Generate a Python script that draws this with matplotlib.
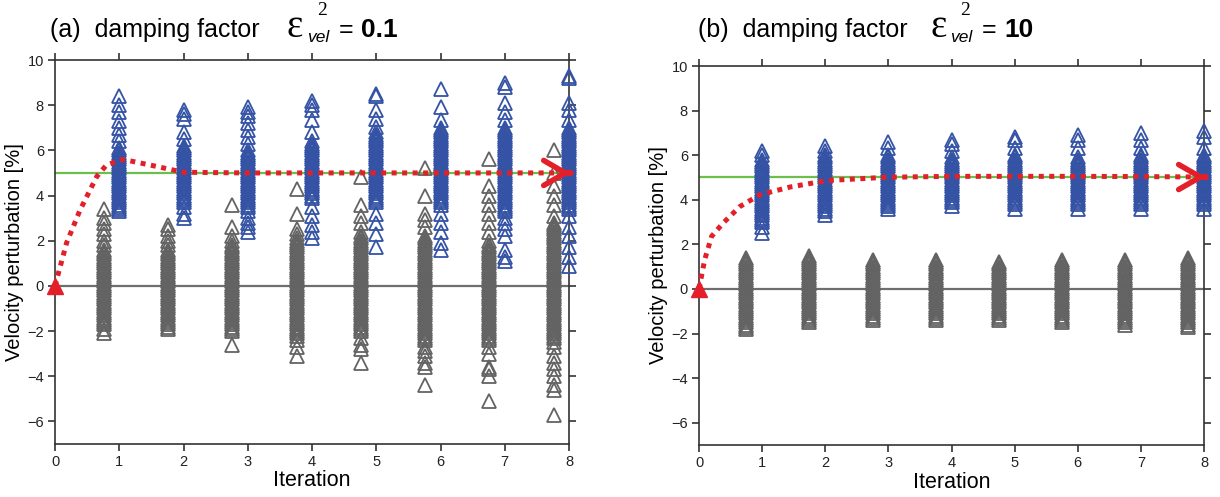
import matplotlib
matplotlib.use("Agg")
import numpy as np
from matplotlib import pyplot as plt

plt.rcParams['font.family'] = ['Liberation Sans', 'DejaVu Sans']

ITERATIONS = [1, 2, 3, 4, 5, 6, 7, 8]
TRUE_PERTURBATION = 5.0

# (a) damping 0.1 : background cells (grey) and anomaly cells (blue), per iteration
GREY_A = [
    [3.4, 3.0, 2.8, 2.5, 2.3, 2.0, 1.8, 1.6, 1.5, 1.4, 1.3, 1.2, 1.1, 1.0, 0.9, 0.8, 0.7, 0.6, 0.5, 0.4, 0.3,
     0.2, 0.1, 0.0, -0.1, -0.2, -0.3, -0.4, -0.5, -0.6, -0.7, -0.8, -0.9, -1.0, -1.1, -1.2, -1.3, -1.4, -1.5,
     -1.6, -1.7, -1.9, -2.1],
    [2.7, 2.5, 2.2, 2.0, 1.8, 1.6, 1.5, 1.4, 1.3, 1.2, 1.1, 1.0, 0.9, 0.8, 0.7, 0.6, 0.5, 0.4, 0.3, 0.2, 0.1,
     0.0, -0.1, -0.2, -0.3, -0.4, -0.5, -0.6, -0.7, -0.8, -0.9, -1.0, -1.1, -1.2, -1.3, -1.4, -1.5, -1.6, -1.7,
     -1.8, -1.9],
    [3.6, 2.6, 2.2, 2.0, 1.8, 1.7, 1.6, 1.5, 1.4, 1.3, 1.2, 1.1, 1.0, 0.9, 0.8, 0.7, 0.6, 0.5, 0.4, 0.3, 0.2,
     0.1, 0.0, -0.1, -0.2, -0.3, -0.4, -0.5, -0.6, -0.7, -0.8, -0.9, -1.0, -1.1, -1.2, -1.3, -1.4, -1.5, -1.6,
     -1.7, -1.8, -1.9, -2.0, -2.6],
    [4.3, 3.2, 2.5, 2.3, 2.1, 2.0, 1.9, 1.8, 1.7, 1.6, 1.5, 1.4, 1.3, 1.2, 1.1, 1.0, 0.9, 0.8, 0.7, 0.6, 0.5,
     0.4, 0.3, 0.2, 0.1, 0.0, -0.1, -0.2, -0.3, -0.4, -0.5, -0.6, -0.7, -0.8, -0.9, -1.0, -1.1, -1.2, -1.3,
     -1.4, -1.5, -1.6, -1.7, -1.8, -1.9, -2.0, -2.1, -2.2, -2.4, -2.7, -3.1],
    [4.8, 3.6, 3.1, 2.8, 2.4, 2.2, 2.1, 2.0, 1.9, 1.8, 1.7, 1.6, 1.5, 1.4, 1.3, 1.2, 1.1, 1.0, 0.9, 0.8, 0.7,
     0.6, 0.5, 0.4, 0.3, 0.2, 0.1, 0.0, -0.1, -0.2, -0.3, -0.4, -0.5, -0.6, -0.7, -0.8, -0.9, -1.0, -1.1, -1.2,
     -1.3, -1.4, -1.5, -1.6, -1.7, -1.8, -1.9, -2.0, -2.3, -2.6, -2.8, -3.4],
    [5.2, 4.0, 3.2, 2.9, 2.6, 2.2, 2.1, 2.0, 1.9, 1.8, 1.7, 1.6, 1.5, 1.4, 1.3, 1.2, 1.1, 1.0, 0.9, 0.8, 0.7,
     0.6, 0.5, 0.4, 0.3, 0.2, 0.1, 0.0, -0.1, -0.2, -0.3, -0.4, -0.5, -0.6, -0.7, -0.8, -0.9, -1.0, -1.1, -1.2,
     -1.3, -1.4, -1.5, -1.6, -1.7, -1.8, -1.9, -2.0, -2.1, -2.2, -2.3, -2.4, -2.7, -2.9, -3.1, -3.4, -3.6, -4.4],
    [5.6, 4.4, 4.0, 3.6, 3.2, 2.8, 2.4, 2.0, 1.8, 1.7, 1.6, 1.5, 1.4, 1.3, 1.2, 1.1, 1.0, 0.9, 0.8, 0.7, 0.6,
     0.5, 0.4, 0.3, 0.2, 0.1, 0.0, -0.1, -0.2, -0.3, -0.4, -0.5, -0.6, -0.7, -0.8, -0.9, -1.0, -1.1, -1.2, -1.3,
     -1.4, -1.5, -1.6, -1.7, -1.8, -1.9, -2.0, -2.1, -2.2, -2.3, -2.4, -2.7, -3.0, -3.6, -3.7, -4.0, -5.1],
    [6.0, 5.0, 4.4, 4.0, 3.6, 3.1, 2.8, 2.7, 2.6, 2.5, 2.4, 2.3, 2.2, 2.1, 2.0, 1.9, 1.8, 1.7, 1.6, 1.5, 1.4,
     1.3, 1.2, 1.1, 1.0, 0.9, 0.8, 0.7, 0.6, 0.5, 0.4, 0.3, 0.2, 0.1, 0.0, -0.1, -0.2, -0.3, -0.4, -0.5, -0.6,
     -0.7, -0.8, -0.9, -1.0, -1.1, -1.2, -1.3, -1.4, -1.5, -1.6, -1.7, -1.8, -1.9, -2.0, -2.1, -2.2, -2.3, -2.5,
     -2.7, -3.1, -3.4, -3.7, -4.0, -4.4, -4.6, -5.7],
]
BLUE_A = [
    [8.4, 8.0, 7.7, 7.3, 7.0, 6.7, 6.4, 6.1, 6.0, 5.9, 5.8, 5.7, 5.6, 5.5, 5.4, 5.3, 5.2, 5.1, 5.0, 4.9, 4.8,
     4.7, 4.6, 4.5, 4.4, 4.3, 4.2, 4.1, 4.0, 3.9, 3.8, 3.7, 3.6, 3.5, 3.4, 3.3],
    [7.8, 7.6, 7.4, 6.8, 6.5, 6.2, 6.1, 6.0, 5.9, 5.8, 5.7, 5.6, 5.5, 5.4, 5.3, 5.2, 5.1, 5.0, 4.9, 4.8, 4.7,
     4.6, 4.5, 4.4, 4.3, 4.2, 4.1, 4.0, 3.9, 3.8, 3.7, 3.5, 3.2, 3.0],
    [7.9, 7.7, 7.5, 7.2, 6.9, 6.6, 6.3, 6.0, 5.9, 5.8, 5.7, 5.6, 5.5, 5.4, 5.3, 5.2, 5.1, 5.0, 4.9, 4.8, 4.7,
     4.6, 4.5, 4.4, 4.3, 4.2, 4.1, 4.0, 3.9, 3.8, 3.7, 3.6, 3.5, 3.3, 3.0, 2.8, 2.6, 2.4],
    [8.2, 8.0, 7.8, 7.35, 6.8, 6.4, 6.3, 6.2, 6.1, 6.0, 5.9, 5.8, 5.7, 5.6, 5.5, 5.4, 5.3, 5.2, 5.1, 5.0, 4.9,
     4.8, 4.7, 4.6, 4.5, 4.4, 4.3, 4.2, 4.1, 4.0, 3.9, 3.5, 3.1, 2.7, 2.4, 2.1],
    [8.5, 8.4, 7.8, 7.4, 7.05, 6.8, 6.7, 6.6, 6.5, 6.4, 6.3, 6.2, 6.1, 6.0, 5.9, 5.8, 5.7, 5.6, 5.5, 5.4, 5.3,
     5.2, 5.1, 5.0, 4.9, 4.8, 4.7, 4.6, 4.5, 4.4, 4.3, 4.2, 4.1, 4.0, 3.9, 3.8, 3.7, 3.2, 2.8, 2.3, 1.7],
    [8.7, 7.9, 7.35, 7.0, 6.9, 6.8, 6.7, 6.6, 6.5, 6.4, 6.3, 6.2, 6.1, 6.0, 5.9, 5.8, 5.7, 5.6, 5.5, 5.4, 5.3,
     5.2, 5.1, 5.0, 4.9, 4.8, 4.7, 4.6, 4.5, 4.4, 4.3, 4.2, 4.1, 4.0, 3.9, 3.8, 3.7, 3.6, 3.2, 2.8, 2.4, 1.9,
     1.6],
    [9.0, 8.8, 8.1, 7.7, 7.35, 7.0, 6.9, 6.8, 6.7, 6.6, 6.5, 6.4, 6.3, 6.2, 6.1, 6.0, 5.9, 5.8, 5.7, 5.6, 5.5,
     5.4, 5.3, 5.2, 5.1, 5.0, 4.9, 4.8, 4.7, 4.6, 4.5, 4.4, 4.3, 4.2, 4.1, 4.0, 3.9, 3.8, 3.7, 3.6, 3.5, 3.4,
     3.3, 3.0, 2.8, 2.5, 2.2, 1.6, 1.3, 1.1],
    [9.3, 9.2, 8.1, 7.8, 7.35, 7.0, 6.9, 6.8, 6.7, 6.6, 6.5, 6.4, 6.3, 6.2, 6.1, 6.0, 5.9, 5.8, 5.7, 5.6, 5.5,
     5.4, 5.3, 5.2, 5.1, 5.0, 4.9, 4.8, 4.7, 4.6, 4.5, 4.4, 4.3, 4.2, 4.1, 4.0, 3.9, 3.8, 3.7, 3.6, 3.5, 3.4,
     3.1, 2.6, 2.2, 1.7, 1.3, 0.9],
]

# (b) damping 10
GREY_B = [
    [1.4, 1.3, 1.2, 1.1, 1.0, 0.9, 0.8, 0.7, 0.6, 0.5, 0.4, 0.3, 0.2, 0.1, 0.0, -0.1, -0.2, -0.3, -0.4, -0.5,
     -0.6, -0.7, -0.8, -0.9, -1.0, -1.1, -1.2, -1.3, -1.4, -1.5, -1.6, -1.7, -1.8],
    [1.5, 1.4, 1.3, 1.2, 1.1, 1.0, 0.9, 0.8, 0.7, 0.6, 0.5, 0.4, 0.3, 0.2, 0.1, 0.0, -0.1, -0.2, -0.3, -0.4,
     -0.5, -0.6, -0.7, -0.8, -0.9, -1.0, -1.1, -1.2, -1.3, -1.4, -1.5],
    [1.3, 1.2, 1.1, 1.0, 0.9, 0.8, 0.7, 0.6, 0.5, 0.4, 0.3, 0.2, 0.1, 0.0, -0.1, -0.2, -0.3, -0.4, -0.5, -0.6,
     -0.7, -0.8, -0.9, -1.0, -1.1, -1.2, -1.3, -1.4],
    [1.3, 1.2, 1.1, 1.0, 0.9, 0.8, 0.7, 0.6, 0.5, 0.4, 0.3, 0.2, 0.1, 0.0, -0.1, -0.2, -0.3, -0.4, -0.5, -0.6,
     -0.7, -0.8, -0.9, -1.0, -1.1, -1.2, -1.3, -1.4],
    [1.2, 1.1, 1.0, 0.9, 0.8, 0.7, 0.6, 0.5, 0.4, 0.3, 0.2, 0.1, 0.0, -0.1, -0.2, -0.3, -0.4, -0.5, -0.6, -0.7,
     -0.8, -0.9, -1.0, -1.1, -1.2, -1.3, -1.4],
    [1.3, 1.2, 1.1, 1.0, 0.9, 0.8, 0.7, 0.6, 0.5, 0.4, 0.3, 0.2, 0.1, 0.0, -0.1, -0.2, -0.3, -0.4, -0.5, -0.6,
     -0.7, -0.8, -0.9, -1.0, -1.1, -1.2, -1.3, -1.4, -1.5],
    [1.3, 1.2, 1.1, 1.0, 0.9, 0.8, 0.7, 0.6, 0.5, 0.4, 0.3, 0.2, 0.1, 0.0, -0.1, -0.2, -0.3, -0.4, -0.5, -0.6,
     -0.7, -0.8, -0.9, -1.0, -1.1, -1.2, -1.3, -1.4, -1.5, -1.6],
    [1.4, 1.3, 1.2, 1.1, 1.0, 0.9, 0.8, 0.7, 0.6, 0.5, 0.4, 0.3, 0.2, 0.1, 0.0, -0.1, -0.2, -0.3, -0.4, -0.5,
     -0.6, -0.7, -0.8, -0.9, -1.0, -1.1, -1.2, -1.3, -1.4, -1.5, -1.6, -1.7],
]
BLUE_B = [
    [6.2, 6.0, 5.8, 5.7, 5.6, 5.5, 5.4, 5.3, 5.2, 5.1, 5.0, 4.9, 4.8, 4.7, 4.6, 4.5, 4.4, 4.3, 4.2, 4.1, 4.0,
     3.9, 3.8, 3.7, 3.6, 3.5, 3.4, 3.3, 3.2, 3.1, 3.0, 2.8, 2.5],
    [6.4, 6.2, 6.0, 5.9, 5.8, 5.7, 5.6, 5.5, 5.4, 5.3, 5.2, 5.1, 5.0, 4.9, 4.8, 4.7, 4.6, 4.5, 4.4, 4.3, 4.2,
     4.1, 4.0, 3.9, 3.8, 3.7, 3.6, 3.5, 3.3],
    [6.6, 6.3, 6.0, 5.9, 5.8, 5.7, 5.6, 5.5, 5.4, 5.3, 5.2, 5.1, 5.0, 4.9, 4.8, 4.7, 4.6, 4.5, 4.4, 4.3, 4.2,
     4.1, 4.0, 3.9, 3.8, 3.7, 3.6],
    [6.7, 6.5, 6.2, 5.9, 5.8, 5.7, 5.6, 5.5, 5.4, 5.3, 5.2, 5.1, 5.0, 4.9, 4.8, 4.7, 4.6, 4.5, 4.4, 4.3, 4.2,
     4.1, 4.0, 3.9, 3.7],
    [6.8, 6.7, 6.3, 6.0, 5.9, 5.8, 5.7, 5.6, 5.5, 5.4, 5.3, 5.2, 5.1, 5.0, 4.9, 4.8, 4.7, 4.6, 4.5, 4.4, 4.3,
     4.2, 4.1, 4.0, 3.9, 3.8, 3.6],
    [6.9, 6.7, 6.3, 5.9, 5.8, 5.7, 5.6, 5.5, 5.4, 5.3, 5.2, 5.1, 5.0, 4.9, 4.8, 4.7, 4.6, 4.5, 4.4, 4.3, 4.2,
     4.1, 4.0, 3.9, 3.8, 3.6],
    [7.0, 6.7, 6.3, 6.0, 5.9, 5.8, 5.7, 5.6, 5.5, 5.4, 5.3, 5.2, 5.1, 5.0, 4.9, 4.8, 4.7, 4.6, 4.5, 4.4, 4.3,
     4.2, 4.1, 4.0, 3.9, 3.8, 3.6],
    [7.1, 6.8, 6.3, 6.0, 5.9, 5.8, 5.7, 5.6, 5.5, 5.4, 5.3, 5.2, 5.1, 5.0, 4.9, 4.8, 4.7, 4.6, 4.5, 4.4, 4.3,
     4.2, 4.1, 4.0, 3.9, 3.8, 3.6],
]

# mean anomaly value per iteration (red dotted curve)
MEAN_X_A = [0, 0.18, 0.39, 0.65, 0.8, 1.06, 1.48, 2.0, 3, 4, 5, 6, 7, 8]
MEAN_Y_A = [0, 1.9, 3.36, 4.84, 5.35, 5.6, 5.35, 5.03, 5.0, 5.0, 5.0, 5.0, 5.0, 5.0]
MEAN_X_B = [0, 0.09, 0.2, 0.38, 0.65, 0.96, 1.44, 2.02, 2.97, 4, 5, 6, 7, 8]
MEAN_Y_B = [0, 1.31, 2.36, 2.95, 3.7, 4.22, 4.57, 4.86, 5.01, 5.05, 5.05, 5.05, 5.04, 5.02]

GREY = '#636363'
BLUE = '#3553a5'
RED = '#e3202a'
GREEN = '#6cbf4a'
W, H = 1220, 497


def draw_panel(ax, grey_cols, blue_cols, grey_offset, mean_x, mean_y):
    ax.axhline(0, color='#6e6e6e', lw=1.6, zorder=1)
    ax.plot([0, 8], [TRUE_PERTURBATION, TRUE_PERTURBATION], color=GREEN, lw=1.6, zorder=2)
    for it, vals in zip(ITERATIONS, grey_cols):
        ax.plot([it + grey_offset] * len(vals), vals, ls='none', marker='^', ms=9.5,
                mfc='none', mec=GREY, mew=1.3, clip_on=False, zorder=3)
    for it, vals in zip(ITERATIONS, blue_cols):
        ax.plot([it] * len(vals), vals, ls='none', marker='^', ms=9.5,
                mfc='none', mec=BLUE, mew=1.3, clip_on=False, zorder=4)
    ax.plot(mean_x, mean_y, color=RED, lw=3.6, ls=(0, (1, 1.1)),
            dash_capstyle='butt', zorder=6, clip_on=False)
    ax.plot(mean_x[0], mean_y[0], marker='^', ms=11, color=RED, clip_on=False, zorder=7)
    ax.annotate('', xy=(mean_x[-1] + 0.03, mean_y[-1]), xytext=(mean_x[-1] - 0.02, mean_y[-1]),
                arrowprops=dict(arrowstyle='->,head_length=1.3,head_width=0.75',
                                mutation_scale=12, color=RED, lw=4),
                zorder=8, annotation_clip=False)

    ax.set_xlim(0, 8)
    ax.set_ylim(-7, 10)
    ax.set_xticks(range(0, 9))
    ax.set_yticks([-6, -4, -2, 0, 2, 4, 6, 8, 10])
    ax.tick_params(direction='out', length=5, width=1.1, labelsize=10.5, colors='#222222',
                   top=True, right=True, pad=3)
    for s in ax.spines.values():
        s.set_linewidth(1.2)
        s.set_color('#333333')
    ax.set_xlabel('Iteration', fontsize=15.5, labelpad=1)
    ax.set_ylabel('Velocity perturbation [%]', fontsize=14.5, labelpad=2)


def px(x, y):
    return x / W, 1 - y / H


def title(x0, letter, eps_x, value):
    fig.text(*px(x0, 37), '(' + letter + ')  damping factor', fontsize=18, va='baseline')
    fig.text(*px(eps_x, 37), '\u03b5', family='Liberation Serif', fontsize=28, va='baseline')
    fig.text(*px(eps_x + 20, 42), 'vel', fontsize=12.5, style='italic', va='baseline')
    fig.text(*px(eps_x + 30, 15), '2', family='Liberation Serif', fontsize=14, va='baseline')
    fig.text(*px(eps_x + 52, 37), '=', fontsize=18, va='baseline')
    fig.text(*px(eps_x + 74, 37), value, fontsize=19, weight='bold', va='baseline')


fig = plt.figure(figsize=(12.2, 4.97), dpi=100)
ax_a = fig.add_axes([55 / W, 1 - 444 / H, 514 / W, 384 / H])
ax_b = fig.add_axes([699 / W, 1 - 445 / H, 505 / W, 379 / H])

draw_panel(ax_a, GREY_A, BLUE_A, -0.24, MEAN_X_A, MEAN_Y_A)
draw_panel(ax_b, GREY_B, BLUE_B, -0.25, MEAN_X_B, MEAN_Y_B)

title(50, 'a', 287, '0.1')
title(698, 'b', 930, '10')

fig.savefig('out.png', dpi=100)
